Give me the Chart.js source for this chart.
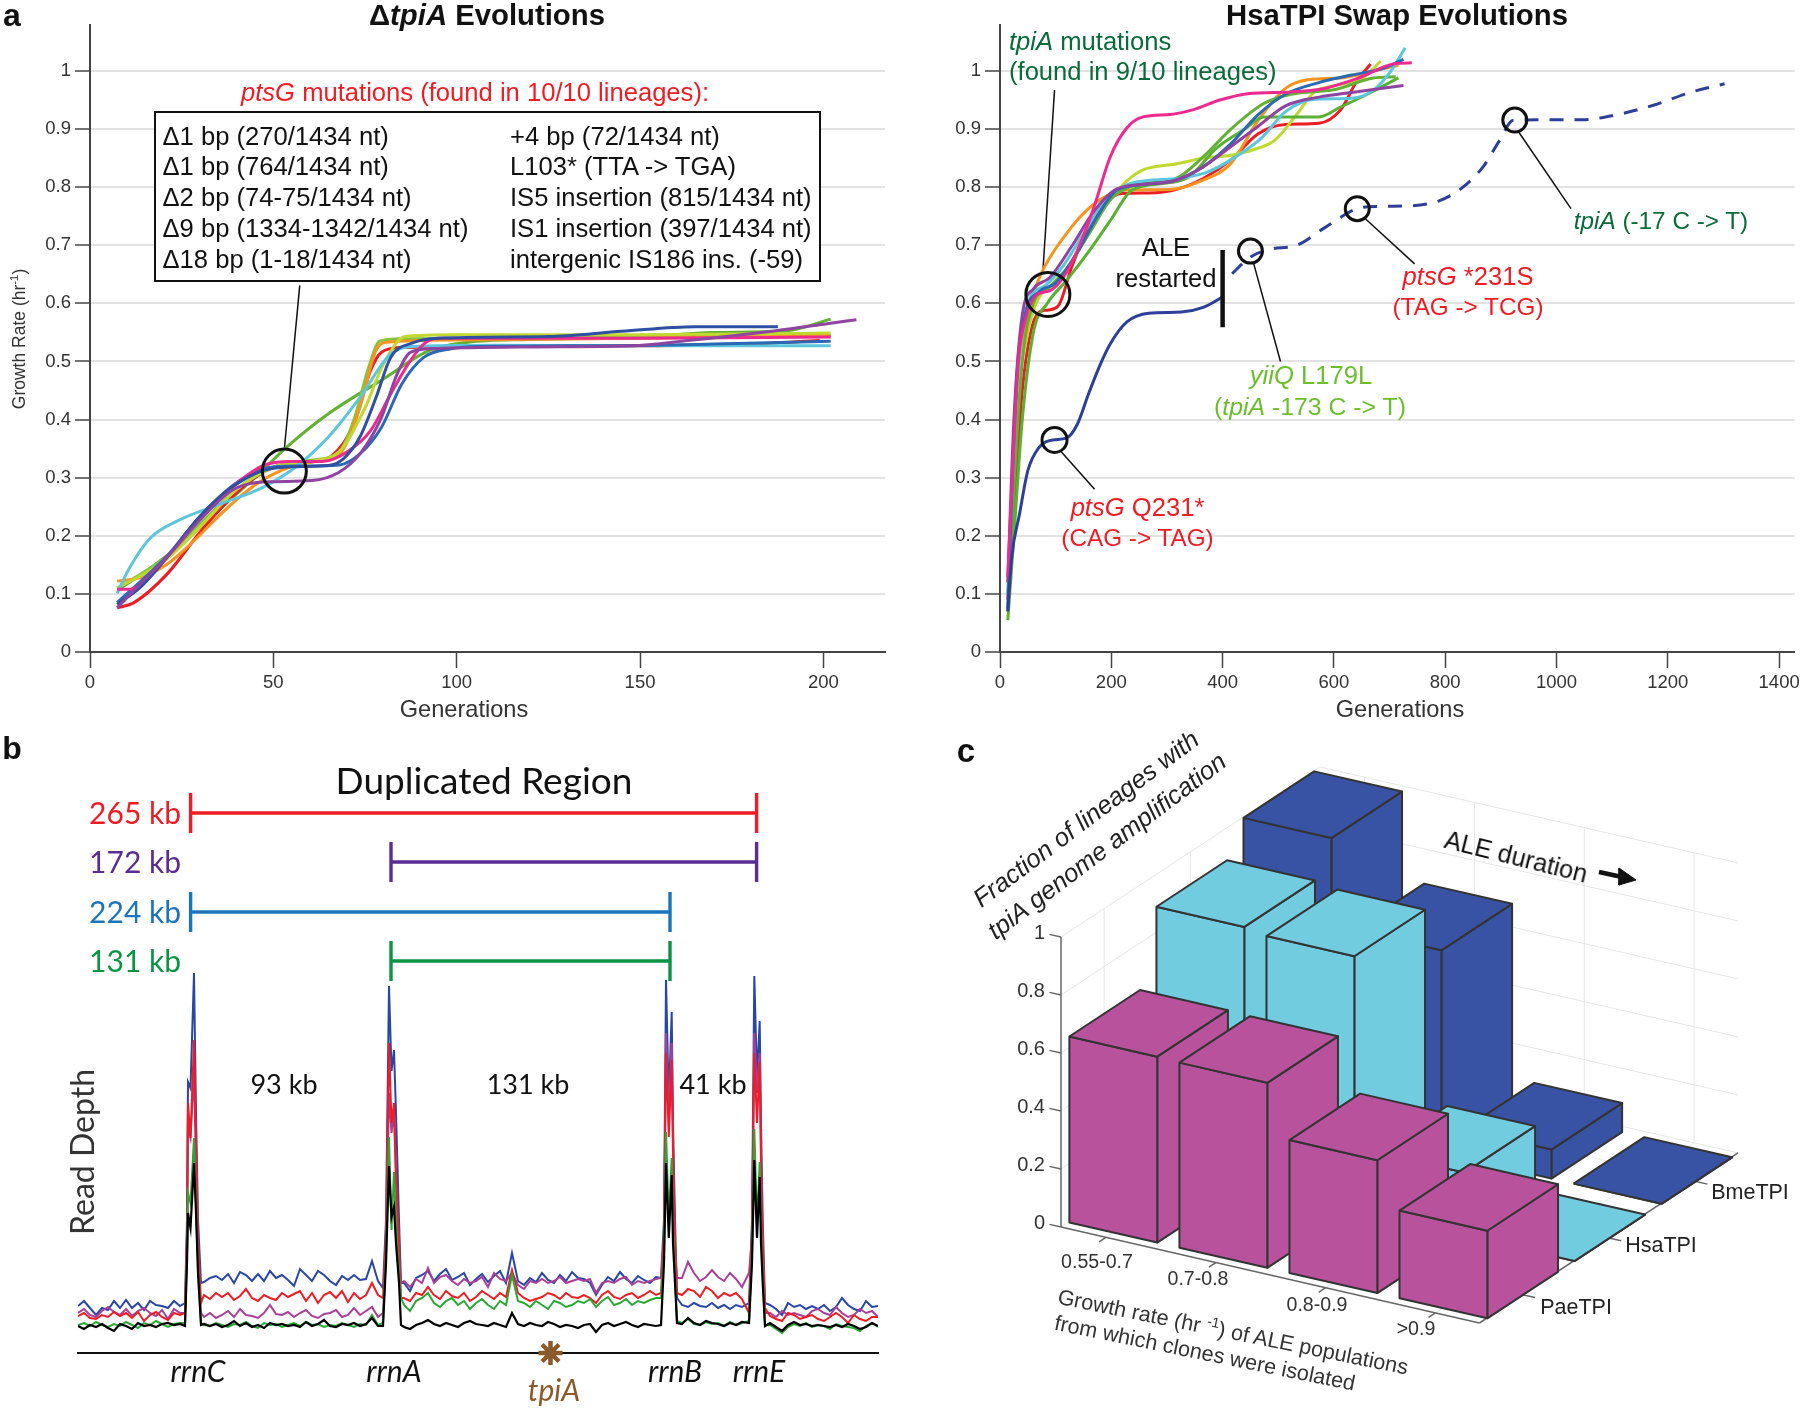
<!DOCTYPE html>
<html>
<head>
<meta charset="utf-8">
<title>tpiA evolutions</title>
<script src="https://cdn.jsdelivr.net/npm/chart.js@4"></script>
<style>
  html, body { margin:0; background:#fff; }
  #fig { position:relative; width:1800px; height:1409px; overflow:hidden; font-family:"Liberation Sans",sans-serif; color:#111; }
  canvas { position:absolute; display:block; }
  .note { position:absolute; white-space:nowrap; line-height:1; }
  .note sup { font-size:.65em; line-height:0; }
  #ptsBox { position:absolute; left:154px; top:111px; width:667px; height:171px; box-sizing:border-box; border:2px solid #111; background:#fff; }
</style>
</head>
<body>
<div id="fig">
  <canvas id="evoA" width="900" height="730" style="left:0;top:0"></canvas>
  <canvas id="evoB" width="870" height="730" style="left:930px;top:0"></canvas>
  <canvas id="depth" width="900" height="630" style="left:0;top:750px"></canvas>
  <canvas id="bars" width="850" height="679" style="left:950px;top:730px"></canvas>
  <div id="ptsBox"></div>
</div>
<script>
/* ---------------- a, left: delta tpiA lineages [generation, growth rate] ---------------- */
const aGreen = [[7.9,.108],[16.6,.145],[27,.197],[37,.255],[47,.312],[53,.349],[65,.41],[80,.47],[92.6,.519],[103,.533],[120,.538],[150,.542],[170,.55],[190,.553],[202,.573]];
const aGreen2 = [[7.4,.11],[20,.16],[30,.22],[40,.28],[50,.318],[60,.33],[68,.345],[72,.4],[76,.49],[79,.535],[85,.539],[120,.54],[160,.543],[202,.545]];
const aOrange = [[7.4,.122],[13.7,.128],[21,.151],[28.3,.191],[35.6,.237],[43,.278],[50,.306],[59,.326],[68,.341],[73.6,.421],[78,.519],[81,.533],[100,.537],[150,.54],[202,.545]];
const aRed = [[7.4,.076],[12,.085],[21,.134],[31,.214],[41.5,.283],[50,.318],[59,.326],[66,.338],[72,.393],[76.5,.484],[79.5,.516],[85,.524],[110,.526],[150,.527],[180,.53],[199,.536]];
const aLime = [[7.4,.11],[20,.155],[30,.215],[40,.28],[50,.318],[60,.328],[68,.345],[75,.42],[80,.495],[86,.543],[100,.546],[150,.546],[202,.549]];
const aCyan = [[7.4,.101],[10.8,.145],[16.6,.197],[24,.226],[35.6,.255],[47,.283],[56,.318],[65,.37],[73.6,.438],[82,.513],[88,.526],[110,.528],[150,.527],[202,.527]];
const aNavy = [[7.4,.082],[13.7,.111],[21,.163],[29.8,.232],[38.6,.283],[47,.312],[56,.319],[65,.321],[69,.332],[73.6,.37],[78,.438],[82,.507],[88,.532],[95,.54],[125,.543],[145,.552],[165,.56],[187.6,.56]];
const aBlue = [[7.4,.085],[21,.165],[29.8,.232],[38.6,.285],[47,.315],[56,.32],[68,.322],[73.6,.341],[79.5,.387],[85,.461],[91,.507],[98.5,.522],[105.8,.526],[140,.527],[170,.53],[202,.535]];
const aPink = [[7.4,.108],[11,.108],[15,.122],[21,.163],[29.8,.232],[38.6,.283],[47.3,.321],[54.6,.328],[63.4,.328],[70.7,.347],[76.5,.381],[82,.444],[86.8,.496],[91,.53],[95,.54],[150,.54],[202,.542]];
const aPurple = [[7.4,.076],[13.7,.117],[21,.163],[29.8,.226],[38.6,.278],[43,.289],[50,.293],[60.5,.295],[67.8,.309],[73.6,.341],[79.5,.404],[83.8,.479],[87.5,.516],[94,.522],[120,.525],[147.6,.527],[163,.536],[187,.553],[201,.565],[209,.572]];

/* ---------------- a, right: HsaTPI lineages ---------------- */
const bGreen = [[14,.055],[25,.2],[40,.4],[60,.55],[85,.6],[120,.64],[160,.69],[200,.745],[237,.795],[300,.807],[340,.818],[390,.868],[440,.9],[474,.921],[573,.921],[612,.938],[660,.96],[716,.988]];
const bGreen2 = [[14,.07],[26,.3],[40,.5],[60,.6],[85,.625],[120,.66],[160,.72],[200,.78],[240,.803],[316,.815],[365,.852],[415,.9],[474,.944],[523,.96],[602,.968],[671,.988],[711,.99]];
const bOrange = [[14,.1],[30,.45],[50,.58],[65,.63],[80,.663],[129,.732],[159,.763],[188,.783],[227,.795],[306,.796],[365,.812],[415,.841],[464,.915],[513,.97],[553,.985],[612,.988],[671,1],[716,1.01]];
const bRed = [[14,.09],[25,.25],[40,.45],[55,.55],[70,.585],[80,.588],[104,.595],[129,.663],[159,.732],[188,.772],[218,.789],[267,.79],[316,.796],[365,.815],[415,.847],[464,.892],[513,.908],[573,.91],[612,.933],[642,.984],[666,1.012]];
const bLime = [[14,.12],[30,.42],[50,.55],[70,.61],[100,.63],[140,.69],[190,.77],[227,.81],[257,.83],[316,.84],[365,.85],[415,.855],[454,.864],[494,.881],[533,.925],[563,.962],[602,.975],[652,.988],[684,1.017]];
const bCyan = [[14,.1],[30,.45],[50,.6],[80,.63],[110,.66],[150,.72],[190,.78],[230,.805],[270,.812],[320,.815],[370,.825],[420,.85],[470,.885],[513,.93],[563,.951],[632,.953],[671,.967],[701,.998],[728,1.04]];
const bBlue = [[14,.075],[30,.47],[45,.58],[70,.62],[100,.635],[140,.69],[175,.75],[210,.795],[260,.805],[316,.812],[365,.835],[415,.875],[464,.925],[513,.96],[573,.98],[632,.993],[690,1.005],[725,1.02]];
const bPink = [[14,.13],[22,.3],[33,.5],[45,.57],[65,.614],[90,.622],[114,.645],[139,.691],[169,.766],[198,.852],[227,.901],[257,.921],[306,.925],[346,.933],[395,.95],[445,.961],[523,.964],[583,.97],[642,.987],[711,1.013],[740,1.014]];
const bPurple = [[14,.12],[25,.4],[40,.58],[60,.625],[90,.645],[130,.7],[170,.76],[210,.797],[260,.805],[316,.812],[365,.835],[415,.87],[464,.905],[513,.94],[573,.955],[632,.963],[725,.975]];
const bSlow = [[14,.07],[21,.163],[35,.237],[50,.312],[70,.352],[95,.365],[119,.368],[139,.392],[159,.444],[178,.49],[198,.53],[228,.568],[267,.583],[326,.585],[365,.593],[400,.611]];
const bRestart = [[417,.651],[450,.68],[484,.693],[533,.7],[583,.73],[642,.763],[681,.767],[740,.768],[790,.777],[829,.798],[868,.835],[898,.881],[922,.915],[977,.916],[1046,.916],[1105,.924],[1174,.941],[1243,.964],[1302,.978]];
const xTicksA = [0,50,100,150,200];
const xTicksB = [0,200,400,600,800,1000,1200,1400];

/* ---------------- b: read depth along the genome ---------------- */
const genomePos = [0,6,12,18,24,30,36,42,48,54,60,66,72,78,84,90,96,102,
  107,109,110,112.5,116,118,120,123,
  126,132,138,144,150,156,162,168,174,180,186,192,198,204,210,216,222,228,234,240,246,252,258,264,270,276,282,288,294,300,
  305,308,311,313.5,316,318,321,323,
  326,332,338,344,350,356,362,368,374,380,386,392,398,404,410,416,422,428,434,440,446,452,458,464,470,476,482,488,494,500,506,512,518,524,530,536,542,548,554,560,566,572,578,
  583,586,588,590.8,593.7,595,597,599,
  604,610,616,622,628,634,640,646,652,658,664,
  671,674,676.3,679,681.7,683,684.7,687,
  692,698,704,710,716,722,728,734,740,746,752,758,764,770,776,782,788,794,800];
const depthBlue = [47,52,45,38,45,43,52,45,53,45,50,43,52,48,47,45,52,47,
  50,133,271,265,380,240,133,70,
  71,75,77,73,79,70,81,78,72,79,72,82,75,78,73,67,84,78,72,82,78,72,68,77,73,78,73,74,92,72,
  65,133,367,282,303,240,133,70,
  70,62,75,78,82,72,79,84,73,76,80,68,74,79,71,77,82,70,100,72,68,75,71,80,73,70,78,72,81,75,74,70,58,68,76,72,81,74,70,77,73,70,76,
  75,133,373,253,341,230,133,55,
  48,46,50,47,46,50,45,48,44,48,46,
  50,133,377,276,332,230,133,50,
  48,44,38,50,46,48,44,47,44,48,42,46,55,48,44,42,52,46,47];
const depthPurple = [40,44,38,36,42,46,41,38,44,37,42,45,40,37,43,34,44,40,
  40,110,225,215,280,190,100,40,
  36,40,35,38,42,36,44,38,37,35,40,48,39,38,41,36,40,43,37,35,39,40,43,36,38,45,38,42,46,36,
  40,100,260,220,240,170,95,70,
  72,66,74,70,85,70,76,78,72,68,74,70,72,76,66,80,74,72,80,68,64,72,70,74,70,72,76,70,72,74,72,74,60,70,72,70,74,76,68,72,70,72,74,
  75,115,320,240,310,210,105,75,
  75,91,80,72,76,83,76,72,80,74,66,
  80,115,320,260,300,200,105,40,
  40,36,42,38,40,38,36,42,44,40,38,46,40,36,38,44,40,42,36];
const depthRed = [37,40,35,34,38,36,41,37,40,35,41,32,38,41,36,33,40,38,
  40,120,250,215,313,210,115,50,
  58,54,60,56,60,53,57,64,55,52,58,55,53,60,56,59,62,52,60,50,58,61,55,62,51,60,54,58,70,58,
  55,120,310,230,250,180,110,55,
  55,52,60,58,66,58,54,62,57,55,60,52,56,62,58,54,60,56,83,60,55,52,54,56,60,58,54,60,56,55,58,55,50,58,62,56,54,58,60,55,58,62,58,
  60,120,300,216,293,200,110,60,
  58,64,62,56,66,62,55,60,57,60,54,
  40,120,300,230,291,190,110,45,
  37,34,32,40,38,34,36,38,34,32,36,40,36,30,38,34,32,36,36];
const depthGreen = [28,30,27,31,28,26,29,27,31,28,25,30,28,32,29,26,29,30,
  30,100,160,150,215,150,85,30,
  28,27,30,28,26,29,28,31,27,25,30,28,29,26,28,30,27,31,28,29,26,28,27,30,28,26,29,28,38,28,
  30,100,216,123,181,130,80,55,
  48,42,52,55,60,50,46,52,55,48,52,44,50,54,48,44,52,48,78,52,50,46,52,48,44,52,50,46,48,52,50,54,46,52,56,48,50,54,48,52,50,53,55,
  55,100,221,135,195,130,80,32,
  30,34,29,28,31,29,30,27,31,28,30,
  32,100,224,130,191,130,80,28,
  28,24,20,26,29,27,30,26,28,27,24,29,27,26,25,22,27,30,26];
const depthBlack = [27,24,28,26,29,25,22,29,27,24,30,27,28,26,29,30,28,29,
  27,90,140,125,190,140,80,28,
  29,27,29,26,28,32,27,30,26,28,25,30,28,29,27,28,26,31,27,29,33,27,26,29,28,30,27,29,35,27,
  27,90,187,136,146,110,70,28,
  26,24,28,30,33,29,27,30,28,26,30,32,29,28,27,30,28,26,40,29,27,30,28,27,31,29,26,28,27,25,28,29,21,28,30,27,29,31,28,26,29,28,27,
  28,90,190,115,178,110,70,30,
  29,35,30,28,32,30,29,27,30,28,31,
  30,90,193,115,176,110,70,27,
  30,26,22,28,31,28,29,27,28,27,26,28,26,29,27,24,26,30,27];
const spanLabels = ["265 kb","172 kb","224 kb","131 kb"];
const spanFrom = [112.6,313,112.6,313];
const spanTo = [678.6,678.6,592,592];
const spanLevel = [540,491,441,392];
const spanColors = ["#ee1c25","#5c2d91","#1b75bb","#0a9444"];
const tpiAPos = 472.5;

/* ---------------- c: fraction of lineages ---------------- */
const rateBins = ["0.55-0.7","0.7-0.8","0.8-0.9",">0.9"];
const lineageNames = ["PaeTPI","HsaTPI","BmeTPI"];
const paeTPI = [.641,.638,.458,.302];
const hsaTPI = [.891,.877,.218,0];
const bmeTPI = [1,.7,.1,0];
const fractionTicks = [0,.2,.4,.6,.8,1];

/* ---------------- Notes ---------------- */
const fig = document.getElementById("fig");
function note(x, y, html, size, color, opt={}){
  const el = document.createElement("div");
  el.className = "note";
  el.innerHTML = html;
  const ax = opt.align==="left" ? "0" : opt.align==="right" ? "-100%" : "-50%";
  el.style.cssText = `left:${x}px;top:${y}px;font-size:${size}px;color:${color||"#111"};transform:translate(${ax},-50%) rotate(${opt.rot||0}deg);`
    + (opt.font?`font-family:${opt.font};`:"") + (opt.bold?"font-weight:700;":"") + (opt.italic?"font-style:italic;":"");
  fig.appendChild(el);
}
const RED = "#ee1c25", DKGREEN = "#0a6b3a", LTGREEN = "#6cbe2d", BROWN = "#8a5a2b", TICK = "#333";
const NOTE = 25.6, NOTE_ARROW = 24.3;

note(12,15,"a",32,"#111",{bold:true});
note(12,748,"b",32,"#111",{bold:true});
note(966,750,"c",33,"#111",{bold:true});
note(487,15,"Δ<i>tpiA</i> Evolutions",29.3,"#111",{bold:true});
note(1397,15,"HsaTPI Swap Evolutions",29.3,"#111",{bold:true});
note(20,339,"Growth Rate (hr<sup>-1</sup>)",17.5,TICK,{rot:-90});
note(464,710,"Generations",23.6,TICK);
note(1400,710,"Generations",23.6,TICK);

note(475,93,"<i>ptsG</i> mutations (found in 10/10 lineages):",NOTE,RED);
const boxLeft = ["Δ1 bp (270/1434 nt)","Δ1 bp (764/1434 nt)","Δ2 bp (74-75/1434 nt)","Δ9 bp (1334-1342/1434 nt)","Δ18 bp (1-18/1434 nt)"];
const boxRight = ["+4 bp (72/1434 nt)","L103* (TTA -&gt; TGA)","IS5 insertion (815/1434 nt)","IS1 insertion (397/1434 nt)","intergenic IS186 ins. (-59)"];
[137,167,198,229,260].forEach((y,i)=>{
  note(162.5,y,boxLeft[i],NOTE,"#111",{align:"left"});
  note(510,y,boxRight[i],NOTE,"#111",{align:"left"});
});

note(1009,42,"<i>tpiA</i> mutations",NOTE,DKGREEN,{align:"left"});
note(1009,72,"(found in 9/10 lineages)",NOTE,DKGREEN,{align:"left"});
note(1166,248,"ALE",NOTE);
note(1166,279,"restarted",NOTE);
note(1468,277,"<i>ptsG</i> *231S",NOTE,RED);
note(1468,307,"(TAG -&gt; TCG)",NOTE_ARROW,RED);
note(1661,221,"<i>tpiA</i> (-17 C -&gt; T)",NOTE_ARROW,DKGREEN);
note(1311,376,"<i>yiiQ</i> L179L",NOTE,LTGREEN);
note(1310,407,"(<i>tpiA</i> -173 C -&gt; T)",24.8,LTGREEN);
note(1137.5,508,"<i>ptsG</i> Q231*",NOTE,RED);
note(1137.5,538,"(CAG -&gt; TAG)",NOTE_ARROW,RED);

const LATO = '"Lato",sans-serif';
note(484,779,"Duplicated Region",37,"#111",{font:LATO});
spanLabels.forEach((t,i)=> note(181,[812,861,911,960][i],t,30,spanColors[i],{align:"right",font:LATO}));
note(81.5,1152,"Read Depth",32,"#333",{rot:-90,font:LATO});
note(284,1083,"93 kb",27,"#111",{font:LATO});
note(528,1083,"131 kb",27,"#111",{font:LATO});
note(713,1083,"41 kb",27,"#111",{font:LATO});
note(198,1370,"rrnC",30,"#111",{font:LATO,italic:true});
note(394,1370,"rrnA",30,"#111",{font:LATO,italic:true});
note(675,1370,"rrnB",30,"#111",{font:LATO,italic:true});
note(759,1370,"rrnE",30,"#111",{font:LATO,italic:true});
note(554,1389,"tpiA",30,BROWN,{font:LATO,italic:true});

note(1085.5,819,"Fraction of lineages with",25.5,"#222",{rot:-37,italic:true});
note(1107,846,"<i>tpiA</i> genome amplification",25.5,"#222",{rot:-37,italic:true});
note(1516,857,"ALE duration",25.3,"#111",{rot:14});
note(1233,1332,"Growth rate (hr <sup>-1</sup>) of ALE populations",21.6,"#333",{rot:11.5});
note(1205,1353,"from which clones were isolated",21.6,"#333",{rot:11.5});
fractionTicks.forEach(v=> note(1045,1222-290*v,String(v),20,TICK,{align:"right"}));
[[1097,1262],[1198,1279],[1317,1305],[1416,1329]].forEach((p,i)=> note(p[0],p[1],rateBins[i],19.6,TICK));
[[1576,1308],[1661,1246],[1750,1193]].forEach((p,i)=> note(p[0],p[1],lineageNames[i],21.5,"#222"));

/* ---------------- Growth charts ---------------- */
const pts = arr => arr.map(p=>({x:p[0],y:p[1]}));
const curve = (arr,color,extra={}) => ({data:pts(arr),borderColor:color,borderWidth:3,pointRadius:0,cubicInterpolationMode:"monotone",...extra});
const ring = (x,y,r) => ({data:[{x,y}],showLine:false,pointRadius:r,pointBorderColor:"#111",pointBorderWidth:3,pointBackgroundColor:"transparent",clip:false});
const leader = (x0,y0,x1,y1) => ({data:[{x:x0,y:y0},{x:x1,y:y1}],borderColor:"#111",borderWidth:1.5,pointRadius:0,tension:0});
const noFx = {responsive:false,animation:false,devicePixelRatio:1,events:[],plugins:{legend:{display:false},tooltip:{enabled:false}}};
const yLabels = v => v===0?"0":v===1?"1":Number(v.toFixed(1)).toString();

function growthChart(id, axisW, padRight, xMax, xTicks, sets){
  return new Chart(document.getElementById(id),{
    type:"line",
    data:{datasets:sets.slice().reverse()},
    options:{...noFx,
      layout:{autoPadding:false,padding:{top:24.5,right:padRight,left:0,bottom:0}},
      scales:{
        x:{type:"linear",min:0,max:xMax,
          afterBuildTicks:s=>{s.ticks=xTicks.map(value=>({value}));},
          afterFit:s=>{s.height=78;s.paddingLeft=0;s.paddingRight=0;},
          border:{color:"#444",width:2},
          grid:{drawOnChartArea:false,tickLength:16,tickColor:"#444",tickWidth:1.5},
          ticks:{autoSkip:false,maxRotation:0,padding:4,color:TICK,callback:v=>String(v),font:{family:"Liberation Sans",size:18.5}}},
        y:{type:"linear",min:0,max:1.08,
          afterFit:s=>{s.width=axisW;},
          border:{color:"#444",width:2},
          grid:{color:"#e2e2e2",lineWidth:2,tickLength:15,tickColor:"#444",tickWidth:1.5},
          ticks:{stepSize:.1,includeBounds:false,padding:4,color:TICK,callback:yLabels,font:{family:"Liberation Sans",size:18.5}}}
      }}
  });
}

growthChart("evoA",90,15,216.8,xTicksA,[
  leader(57.2,.631,53,.349),
  curve(aGreen,"#62b034"),curve(aRed,"#ed1c24"),curve(aGreen2,"#86c440"),curve(aOrange,"#f7941d"),curve(aLime,"#c1d82f"),
  curve(aCyan,"#5cc6dc"),curve(aBlue,"#2a6ab5"),curve(aPink,"#ec2a8f"),curve(aNavy,"#2e4fa2"),curve(aPurple,"#8e44a0"),
  ring(53,.3115,22)
]);

growthChart("evoB",70,5.4,1427.8,xTicksB,[
  leader(98,.967,77,.654),leader(456,.668,504,.5),leader(656,.746,745,.668),leader(932,.895,1026,.763),leader(108,.347,170,.28),
  curve(bRed,"#ed1c24"),curve(bOrange,"#f7941d"),curve(bLime,"#c1d82f"),curve(bGreen,"#5ab033"),curve(bGreen2,"#62b034"),
  curve(bCyan,"#5cc6dc"),curve(bBlue,"#2a6ab5"),curve(bPurple,"#8e44a0"),curve(bPink,"#ec2a8f"),
  curve(bSlow,"#2e3f98"),
  curve(bRestart,"#2e3f98",{borderDash:[14,11]}),
  {data:[{x:400,y:.559},{x:400,y:.692}],borderColor:"#111",borderWidth:4.5,pointRadius:0},
  ring(86,.6155,22),ring(98,.365,12.5),ring(450,.69,12),ring(642,.763,12),ring(925,.9155,12)
]);

/* ---------------- Read depth chart ---------------- */
const depthSet = (vals,color,w=2) => ({data:vals.map((v,i)=>({x:genomePos[i],y:v})),borderColor:color,borderWidth:w,pointRadius:0,tension:0});
const spanSet = i => {
  const l=spanFrom[i], r=spanTo[i], y=spanLevel[i], h=20;
  return {data:[{x:l,y:y-h},{x:l,y:y+h},{x:l,y:y},{x:r,y:y},{x:r,y:y+h},{x:r,y:y-h}],borderColor:spanColors[i],borderWidth:3.4,pointRadius:0,tension:0};
};
new Chart(document.getElementById("depth"),{
  type:"line",
  data:{datasets:[
    {data:[{x:tpiAPos,y:0}],showLine:false,pointStyle:"star",pointRadius:12,pointBorderColor:BROWN,pointBorderWidth:4.5,clip:false},
    depthSet(depthBlack,"#000",2.2),depthSet(depthGreen,"#2aa836"),depthSet(depthRed,"#ee1c25"),depthSet(depthPurple,"#a8409a"),depthSet(depthBlue,"#2a46a5"),
    ...spanLabels.map((_,i)=>spanSet(i))
  ]},
  options:{...noFx,
    layout:{autoPadding:false,padding:{top:3,left:78,right:22,bottom:0}},
    scales:{
      x:{type:"linear",min:0,max:800,afterFit:s=>{s.height=27;},border:{color:"#111",width:2},grid:{display:false},ticks:{display:false}},
      y:{type:"linear",min:0,max:600,display:false}
    }}
});

/* ---------------- 3D bars ---------------- */
const project = (a,b,z) => ({x:1061+104.6*a+86.2*b, y:1227+24*a-56.7*b-290*z});
const seg = (p0,p1,color,w) => ({data:[p0,p1],borderColor:color,borderWidth:w,pointRadius:0,tension:0});
const poly = (corners,color) => ({data:[...corners,corners[0]],borderColor:"#333",borderWidth:2,backgroundColor:color,fill:"shape",pointRadius:0,tension:0,borderJoinStyle:"round"});

const painter = [];
const GRID = "#e6e6e6", AXIS = "#666";
fractionTicks.forEach(z=>{
  painter.push(seg(project(0,0,z),project(0,3,z),GRID,1));
  painter.push(seg(project(0,3,z),project(4,3,z),GRID,1));
});
[.5,1.5,2.5].forEach(b=>{
  painter.push(seg(project(0,b,0),project(0,b,1),GRID,1));
  painter.push(seg(project(0,b,0),project(4,b,0),GRID,1));
  painter.push(seg(project(4,b,0),project(4.12,b,0),AXIS,1.5));
});
[.43,1.48,2.53,3.58].forEach(a=>{
  painter.push(seg(project(a,3,0),project(a,3,1),GRID,1));
  painter.push(seg(project(a,0,0),project(a,3,0),GRID,1));
  painter.push(seg(project(a,0,0),project(a,-.08,0),AXIS,1.5));
});
fractionTicks.forEach(z=> painter.push(seg(project(0,0,z),project(-.11,0,z),AXIS,1.5)));
painter.push(seg(project(0,0,0),project(0,0,1),AXIS,1.5));
painter.push(seg(project(0,0,0),project(4,0,0),AXIS,1.5));
painter.push(seg(project(4,0,0),project(4,3,0),AXIS,1.5));

[[bmeTPI,2,"#3953a4"],[hsaTPI,1,"#72cce0"],[paeTPI,0,"#b8529c"]].forEach(([vals,j,color])=>{
  vals.forEach((z,i)=>{
    const a=.01+1.052*i, b=.085+1.01*j, w=.84, d=.82;
    painter.push(poly([project(a+w,b,0),project(a+w,b+d,0),project(a+w,b+d,z),project(a+w,b,z)],color));
    painter.push(poly([project(a,b,0),project(a+w,b,0),project(a+w,b,z),project(a,b,z)],color));
    painter.push(poly([project(a,b,z),project(a+w,b,z),project(a+w,b+d,z),project(a,b+d,z)],color));
  });
});
/* ALE duration arrow */
painter.push(seg({x:1599,y:872},{x:1622,y:877},"#111",4.5));
painter.push({data:[{x:1636,y:880},{x:1619,y:868},{x:1619,y:885},{x:1636,y:880}],borderColor:"#111",borderWidth:1,backgroundColor:"#111",fill:"shape",pointRadius:0,tension:0});

new Chart(document.getElementById("bars"),{
  type:"line",
  data:{datasets:painter.reverse()},
  options:{...noFx,
    layout:{autoPadding:false,padding:0},
    scales:{
      x:{type:"linear",min:950,max:1800,display:false},
      y:{type:"linear",min:730,max:1409,reverse:true,display:false}
    }}
});
</script>
</body>
</html>
